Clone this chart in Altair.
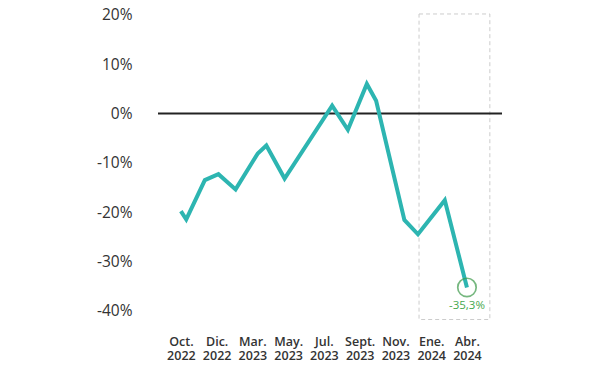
import altair as alt
import pandas as pd

# Series: position in label units (0 = Oct. 2022 ... 8 = Abr. 2024) and value in %
pos = [0.0, 0.15, 0.67, 1.05, 1.53, 2.15, 2.39, 2.9, 4.23, 4.67, 5.2, 5.46, 6.25, 6.63, 7.38, 8.0]
vals = [-19.8, -21.5, -13.5, -12.3, -15.4, -8.1, -6.5, -13.2, 1.6, -3.3, 6.0, 2.6, -21.6, -24.5, -17.6, -35.3]

tick_months = ["Oct.", "Dic.", "Mar.", "May.", "Jul.", "Sept.", "Nov.", "Ene.", "Abr."]
tick_years = ["2022", "2022", "2023", "2023", "2023", "2023", "2023", "2024", "2024"]
y_ticks = [-40, -30, -20, -10, 0, 10, 20]

last_label = "-35,3%"
box_x = [6.66, 8.64]
box_y = [-41.8, 20.2]
x_domain = [-0.64, 8.98]
y_domain = [-42, 20.5]

df = pd.DataFrame({"x": pos, "v": vals})
last = pd.DataFrame({"x": [pos[-1]], "v": [vals[-1]], "t": [last_label]})
box = pd.DataFrame({"x": [box_x[0]], "x2": [box_x[1]], "y": [box_y[0]], "y2": [box_y[1]]})
zero = pd.DataFrame({"x": [x_domain[0]], "x2": [x_domain[1]], "v": [0]})

label_arr = "[" + ",".join("['%s','%s']" % (m, y) for m, y in zip(tick_months, tick_years)) + "]"

xs = alt.Scale(domain=x_domain, nice=False, zero=False)
ys = alt.Scale(domain=y_domain, nice=False, zero=False)

x_axis = alt.Axis(values=list(range(9)), labelExpr=label_arr + "[datum.value]",
                  grid=False, ticks=False, domain=False, title=None,
                  labelFont="Open Sans", labelFontSize=12.5, labelColor="#333333",
                  labelFontWeight=600, labelPadding=15, labelLineHeight=14)
y_axis = alt.Axis(values=y_ticks, labelExpr="datum.value + '%'", grid=False, ticks=False,
                  domain=False, title=None, labelFont="Open Sans", labelFontSize=15.5,
                  labelFontWeight=500, labelColor="#333333", labelPadding=26)

X = lambda f: alt.X(f, scale=xs, axis=x_axis)
Y = lambda f: alt.Y(f, scale=ys, axis=y_axis)

rect = alt.Chart(box).mark_rect(fill=None, stroke="#cccccc", strokeDash=[4, 3], strokeWidth=1).encode(
    x=X("x:Q"), x2="x2", y=Y("y:Q"), y2="y2")

zline = alt.Chart(zero).mark_rule(color="#222222", strokeWidth=1.8).encode(
    x=X("x:Q"), x2="x2", y=Y("v:Q"))

line = alt.Chart(df).mark_line(color="#2db5b1", strokeWidth=4, strokeJoin="miter").encode(
    x=X("x:Q"), y=Y("v:Q"))

circle = alt.Chart(last).mark_point(shape="circle", size=340, filled=False, stroke="#3d9a4a", strokeWidth=1.7).encode(
    x=X("x:Q"), y=Y("v:Q"))

text = alt.Chart(last).mark_text(color="#46a84f", font="Open Sans", fontSize=11.5, dy=19).encode(
    x=X("x:Q"), y=Y("v:Q"), text="t:N")

chart = alt.layer(rect, zline, line, circle, text).properties(
    width=344, height=308,
    background="white",
    autosize=alt.AutoSizeParams(type="none"),
    padding={"left": 150, "top": 4.5, "right": 90, "bottom": 44},
).configure_view(strokeWidth=0, stroke="transparent")

chart.save("out.html", embed_options={"renderer": "svg", "actions": False})
